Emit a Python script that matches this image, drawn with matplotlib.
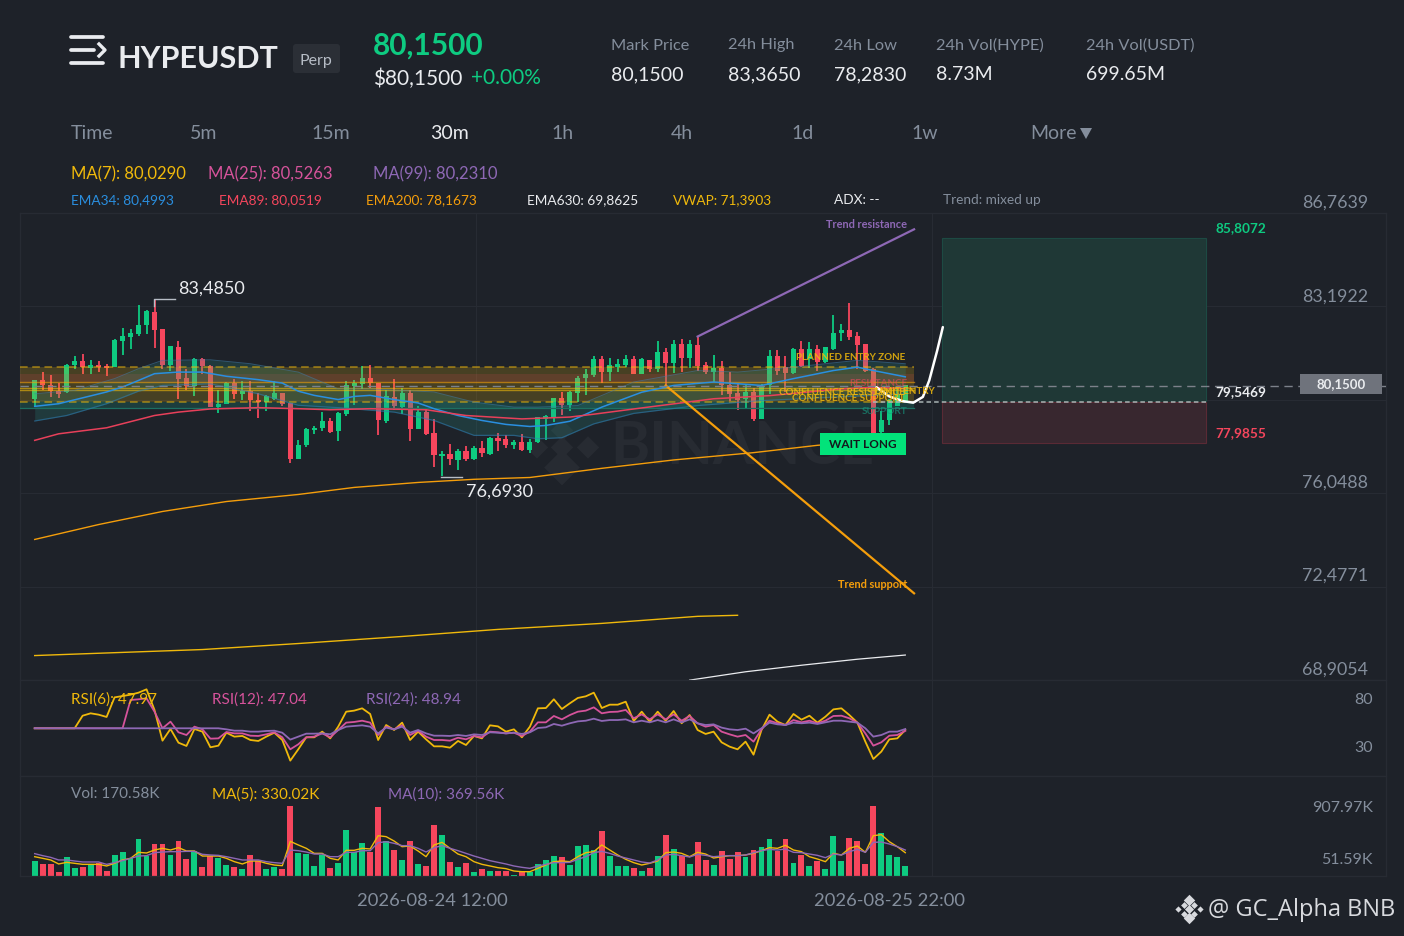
import matplotlib
matplotlib.use('Agg')
import numpy as np
import matplotlib.pyplot as plt
from matplotlib.lines import Line2D
from matplotlib.patches import Rectangle, FancyBboxPatch

plt.rcParams['font.family'] = ['Lato', 'DejaVu Sans']

BG = '#1e2229'
GREEN = '#0ecb81'
RED = '#f6465d'
GOLD = '#f0b90b'
PINK = '#d6539b'
PURPLE = '#8e68b5'
BLUE = '#2a8fe0'
ORANGE = '#f59e0b'
GREY = '#848e9c'
LIGHT = '#eaecef'
GRID = '#272b33'

# candles, 30m
opens = [79.66, 80.34, 80.15, 79.94, 79.92, 80.94, 81.10, 80.84, 80.92, 80.90,
         80.87, 81.87, 82.03, 82.15, 82.47, 82.95, 82.29, 80.94, 81.63, 80.43,
         80.15, 81.15, 80.91, 79.34, 79.45, 80.26, 79.83, 79.92, 79.60, 79.53,
         79.66, 79.85, 79.47, 77.37, 77.88, 78.48, 78.54, 78.78, 78.43, 79.06,
         80.15, 80.24, 80.45, 80.24, 78.81, 79.70, 79.35, 79.85, 78.49, 79.14,
         78.32, 77.46, 77.52, 77.33, 77.63, 77.34, 77.74, 77.56, 78.13, 78.10,
         77.89, 77.97, 77.70, 77.99, 78.89, 78.94, 79.66, 79.41, 79.88, 80.45,
         80.58, 81.16, 80.68, 80.87, 80.97, 81.16, 80.61, 81.14, 80.78, 81.42,
         81.02, 81.72, 81.21, 81.70, 80.93, 80.70, 80.83, 80.17, 79.85, 79.66,
         79.89, 78.90, 80.17, 81.28, 80.87, 80.65, 81.53, 81.19, 81.53, 81.06,
         81.57, 82.17, 82.27, 82.04, 81.73, 80.77, 78.38, 78.83, 79.40, 79.59]
highs = [80.39, 80.68, 80.55, 80.27, 80.98, 81.28, 81.36, 81.13, 81.09, 81.00,
         81.93, 82.36, 82.31, 83.23, 83.04, 83.485, 82.31, 81.66, 81.85, 80.78,
         81.23, 81.23, 80.96, 80.01, 80.29, 80.40, 80.34, 80.34, 79.88, 79.79,
         80.34, 79.85, 79.47, 78.07, 78.55, 78.63, 79.17, 78.94, 79.17, 80.34,
         80.37, 80.93, 80.96, 80.26, 80.01, 80.43, 80.07, 80.01, 79.37, 79.28,
         78.90, 77.65, 77.92, 77.74, 77.87, 77.85, 78.05, 78.20, 78.36, 78.26,
         78.10, 78.30, 78.13, 78.96, 79.04, 79.70, 79.91, 79.96, 80.52, 80.81,
         81.28, 81.28, 81.21, 81.19, 81.32, 81.29, 81.21, 81.15, 81.85, 81.59,
         81.91, 81.95, 81.89, 82.05, 81.08, 81.32, 81.10, 80.68, 80.27, 80.21,
         80.08, 80.23, 81.53, 81.53, 81.29, 81.61, 81.85, 81.82, 81.70, 81.63,
         82.87, 82.53, 83.33, 82.21, 81.76, 80.85, 79.19, 79.66, 80.10, 80.17]
lows = [79.34, 80.01, 79.73, 79.69, 79.88, 80.78, 80.62, 80.59, 80.68, 80.52,
        80.87, 81.33, 81.56, 82.06, 82.12, 81.60, 80.78, 80.71, 79.64, 79.98,
        79.75, 80.62, 79.34, 79.11, 79.45, 79.66, 79.60, 79.19, 78.91, 79.19,
        79.60, 79.37, 77.20, 77.34, 77.81, 78.30, 78.43, 78.35, 78.05, 79.01,
        79.42, 80.03, 80.06, 78.26, 78.73, 79.22, 79.09, 78.05, 78.49, 78.27,
        77.05, 76.693, 77.13, 76.95, 77.28, 77.32, 77.43, 77.50, 77.65, 77.79,
        77.72, 77.66, 77.59, 77.98, 78.10, 78.77, 79.05, 79.19, 79.52, 79.80,
        80.49, 80.27, 80.33, 80.68, 80.87, 80.59, 80.59, 80.70, 80.70, 80.10,
        80.64, 80.70, 80.84, 80.72, 80.61, 80.29, 79.82, 79.59, 79.24, 79.31,
        78.80, 78.90, 79.85, 80.55, 79.91, 80.61, 80.89, 80.84, 80.74, 81.02,
        81.53, 81.86, 81.89, 80.80, 80.68, 78.32, 78.32, 78.64, 79.40, 79.57]
closes = [80.36, 80.17, 79.96, 79.85, 80.95, 81.10, 80.87, 80.92, 80.86, 80.85,
          81.87, 82.03, 82.15, 82.47, 82.98, 82.30, 80.94, 81.64, 80.43, 80.15,
          81.15, 80.91, 79.34, 79.45, 80.26, 79.85, 79.92, 79.60, 79.52, 79.73,
          79.85, 79.47, 77.37, 77.88, 78.49, 78.54, 78.80, 78.40, 79.09, 80.15,
          80.24, 80.45, 80.26, 78.83, 79.75, 79.38, 79.85, 78.50, 79.14, 78.30,
          77.50, 77.53, 77.35, 77.63, 77.34, 77.74, 77.57, 78.15, 78.06, 77.88,
          77.97, 77.70, 77.99, 78.94, 78.99, 79.66, 79.43, 79.88, 80.45, 80.57,
          81.15, 80.68, 80.93, 80.97, 81.16, 80.61, 81.16, 80.78, 81.42, 81.02,
          81.72, 81.21, 81.72, 80.93, 80.70, 80.83, 80.17, 79.85, 79.62, 79.89,
          78.87, 80.10, 81.28, 80.74, 80.65, 81.54, 80.93, 81.53, 81.06, 81.61,
          82.17, 82.27, 82.02, 81.73, 80.74, 78.35, 78.83, 79.59, 79.82, 80.15]

# moving averages, sampled along the line
ema34_idx = [0, 3, 9, 11, 13, 15, 18, 21, 24, 28, 31, 33, 35, 38, 40, 42, 45, 48, 50, 53, 56, 59, 62, 64, 67, 71, 76, 80, 85, 91, 95, 100, 103, 105, 109]
ema34 = [79.37, 79.47, 79.92, 80.11, 80.36, 80.62, 80.68, 80.68, 80.52, 80.39, 80.26, 79.95, 79.79, 79.63, 79.75, 79.79, 79.63, 79.50, 79.28, 79.02, 78.83, 78.68, 78.60, 78.64, 78.80, 79.34, 79.91, 80.17, 80.30, 80.17, 80.43, 80.74, 80.87, 80.74, 80.50]
ema89_idx = [0, 3, 9, 15, 18, 22, 28, 33, 37, 42, 49, 54, 61, 67, 70, 75, 85, 92, 101, 105, 109]
ema89 = [78.07, 78.32, 78.55, 79.02, 79.15, 79.27, 79.32, 79.28, 79.24, 79.28, 79.24, 79.02, 78.89, 78.96, 79.07, 79.27, 79.66, 79.78, 80.04, 80.10, 80.05]
ema200_idx = [0, 8, 16, 24, 33, 40, 48, 55, 62, 71, 80, 90, 98, 109]
ema200 = [74.28, 74.85, 75.35, 75.73, 76.00, 76.27, 76.46, 76.58, 76.65, 77.00, 77.32, 77.60, 77.88, 78.17]
vwap_idx = [0, 10, 21, 33, 46, 58, 71, 83, 88]
vwap = [69.84, 69.95, 70.07, 70.30, 70.57, 70.84, 71.07, 71.34, 71.38]
ema630_idx = [82, 89, 96, 103, 109]
ema630 = [68.90, 69.22, 69.47, 69.70, 69.86]

band_up_idx = [0, 5, 10, 13, 16, 22, 27, 33, 38, 42, 50, 55, 60, 63, 68, 75, 83, 88, 95, 103, 109]
band_up = [79.85, 79.98, 80.43, 80.81, 81.13, 81.15, 81.00, 80.68, 80.04, 80.04, 79.92, 79.53, 79.34, 79.34, 79.40, 80.30, 80.74, 80.68, 80.87, 81.13, 81.00]
band_lo_idx = [0, 4, 9, 13, 16, 22, 28, 33, 38, 45, 50, 55, 60, 63, 66, 70, 75, 83, 91, 100, 109]
band_lo = [78.81, 79.02, 79.47, 79.95, 80.17, 80.23, 79.85, 79.41, 79.32, 79.15, 78.83, 78.26, 78.26, 78.13, 78.17, 78.70, 79.10, 79.40, 79.59, 79.72, 79.85]

# drawn levels
zone_top, zone_bot = 80.87, 79.52
res_top, res_bot = 80.62, 80.30
sup_top, sup_bot = 79.52, 79.30
conf_levels = [80.30, 80.09, 80.00]
last_price = 80.15
tp_price, entry_price, sl_price = 85.8072, 79.5469, 77.9855
trend_res_idx, trend_res = [83, 110.1], [82.04, 86.14]
trend_sup_idx, trend_sup = [79, 110.1], [80.17, 72.22]
path_idx = [105.4, 107, 108.7, 110, 111.2, 112, 113, 113.7]
path_px = [80.10, 79.75, 79.57, 79.51, 79.73, 80.36, 81.51, 82.40]
price_ticks = [86.7639, 83.1922, 79.6205, 76.0488, 72.4771, 68.9054]
tick_text = ['86,7639', '83,1922', None, '76,0488', '72,4771', '68,9054']

rsi6 = [49.7, 49.7, 49.7, 49.7, 49.7, 49.7, 62.8, 65.3, 63.9, 61.5, 81.9, 83.3, 84.7, 86.8, 90.3, 68.8, 36.8, 49.0, 34.7, 31.3,
        49.0, 46.2, 29.9, 31.6, 45.1, 41.0, 41.7, 37.5, 36.5, 41.0, 45.1, 37.5, 16.0, 27.8, 40.3, 40.3, 46.2, 39.2, 51.4, 67.0,
        68.1, 70.5, 64.6, 37.5, 53.1, 47.9, 55.6, 37.5, 46.2, 38.2, 30.9, 30.9, 29.5, 36.5, 32.3,
        41.7, 39.2, 52.8, 51.7, 46.2, 48.6, 40.3, 51.4, 70.5, 70.8, 79.9, 69.8, 75.7, 81.3, 83.0, 86.8, 70.8, 74.3, 74.3, 77.4,
        57.3, 67.0, 56.6, 67.0, 57.6, 67.7, 54.9, 63.5, 47.9, 43.8, 46.2, 35.1, 30.6, 27.8, 35.8, 22.2, 47.9, 63.9, 56.6, 53.1,
        64.6, 58.7, 62.8, 55.6, 61.8, 69.4, 70.5, 63.5, 55.6, 35.8, 17.7, 25.4, 38.2, 39.2, 47.97]
rsi12 = [49.7, 49.7, 49.7, 49.7, 49.7, 49.7, 49.7, 49.7, 49.7, 49.7, 49.7, 49.7, 79.2, 79.9, 80.9, 67.0, 49.7, 56.6, 45.5, 42.7,
         51.4, 48.6, 38.9, 39.2, 45.8, 44.4, 44.4, 42.0, 41.7, 43.4, 45.5, 40.3, 27.8, 33.0, 40.3, 41.0, 44.4, 40.3, 47.9, 55.6,
         56.3, 57.6, 55.6, 42.7, 51.4, 48.6, 52.8, 42.7, 47.2, 41.0, 37.5, 37.5, 36.8, 39.9, 38.2,
         41.7, 40.3, 46.2, 45.5, 44.4, 45.1, 41.7, 46.2, 55.9, 55.9, 62.5, 59.0, 63.5, 67.0, 68.1, 71.5, 65.3, 66.7, 67.0, 68.8,
         60.1, 64.2, 59.0, 64.2, 59.0, 64.2, 57.6, 62.5, 54.9, 51.4, 53.1, 46.2, 43.4, 41.0, 42.7, 35.8, 48.6, 57.6, 54.9, 53.1,
         58.3, 55.9, 57.6, 54.9, 57.6, 62.5, 62.8, 60.1, 55.6, 44.4, 31.6, 35.1, 42.0, 42.7, 47.04]
rsi24 = [49.7, 49.7, 49.7, 49.7, 49.7, 49.7, 49.7, 49.7, 49.7, 49.7, 49.7, 49.7, 49.7, 49.7, 49.7, 49.7, 49.7, 49.7, 49.7, 49.7,
         49.7, 49.7, 49.7, 49.7, 48.6, 47.2, 47.2, 46.2, 46.2, 46.9, 47.2, 45.1, 37.9, 41.0, 44.1, 44.1, 44.4, 43.4, 47.9, 51.4,
         52.1, 52.8, 51.4, 44.4, 50.4, 48.6, 51.4, 45.1, 47.9, 44.4, 42.0, 42.0, 41.7, 42.7, 41.7,
         43.4, 42.7, 45.5, 45.1, 44.4, 45.1, 43.8, 45.5, 50.0, 50.7, 54.2, 52.4, 54.9, 56.9, 57.6, 59.7, 57.3, 58.3, 58.3, 59.0,
         55.9, 57.6, 55.9, 58.3, 55.9, 59.0, 55.9, 59.0, 54.9, 53.1, 53.8, 50.4, 48.6, 47.9, 49.3, 44.4, 49.7, 55.6, 53.8, 53.1,
         55.6, 54.9, 55.6, 54.2, 55.9, 57.6, 57.6, 56.6, 55.6, 49.7, 41.0, 42.7, 46.2, 46.2, 48.94]

# volume in K
volume = [247, 198, 203, 71, 307, 137, 148, 192, 214, 77, 340, 395, 296, 609, 329, 527, 527, 351, 571, 280,
          417, 154, 329, 302, 181, 143, 115, 346, 253, 121, 148, 121, 1153, 379, 368, 159, 351, 126, 209, 758,
          401, 544, 390, 1131, 571, 434, 258, 576, 203, 159, 834, 681, 231, 148, 220,
          66, 110, 82, 88, 82, 22, 71, 71, 203, 269, 329, 313, 187, 494, 505, 428, 736, 329, 165, 165,
          132, 88, 132, 329, 670, 439, 329, 198, 554, 264, 176, 417, 275, 390, 313, 423, 483, 609, 417, 609,
          214, 351, 159, 253, 121, 659, 253, 631, 582, 192, 1153, 703, 340, 318, 170.58]
vol_ma5 = [318, 291, 264, 198, 225, 209, 192, 192, 192, 165, 209, 264, 291, 390, 379, 428, 456, 428, 467, 412,
           412, 329, 329, 329, 291, 236, 198, 247, 247, 209, 181, 170, 571, 511, 456, 373, 373, 291, 264, 423,
           423, 456, 445, 664, 648, 576, 483, 494, 412, 318, 511, 554, 456, 362, 318,
           236, 192, 165, 137, 121, 82, 71, 71, 126, 181, 236, 247, 236, 318, 384, 401, 511, 428, 346, 275,
           220, 181, 209, 247, 384, 395, 373, 318, 390, 362, 296, 318, 335, 335, 346, 373, 417, 467, 456, 505,
           428, 401, 318, 280, 236, 373, 346, 456, 494, 390, 664, 681, 565, 483, 384]
vol_ma10 = [368, 335, 307, 264, 264, 247, 231, 231, 231, 192, 220, 253, 291, 329, 335, 384, 395, 401, 401, 406,
            406, 357, 346, 340, 318, 291, 264, 264, 264, 236, 220, 209, 428, 417, 395, 362, 362, 318, 318, 390,
            390, 417, 417, 549, 565, 538, 500, 500, 456, 395, 467, 500, 456, 417, 373,
            329, 291, 253, 225, 198, 165, 143, 126, 165, 192, 220, 220, 225, 275, 318, 384, 406, 373, 329, 296,
            264, 231, 214, 264, 346, 357, 335, 313, 357, 340, 318, 329, 335, 335, 346, 384, 417, 439, 428, 445,
            390, 384, 362, 340, 302, 362, 346, 401, 439, 390, 554, 560, 527, 483, 428]

W, H = 1404, 936
X0, DX = 34.7, 7.987
fig = plt.figure(figsize=(W / 100, H / 100), dpi=100, facecolor=BG)


def panel(top, bottom, left=20, right=1386):
    a = fig.add_axes([left / W, 1 - bottom / H, (right - left) / W, (bottom - top) / H], facecolor=BG)
    a.set_xlim((left - X0) / DX, (right - X0) / DX)
    a.tick_params(left=False, bottom=False, labelleft=False, labelbottom=False)
    for s in a.spines.values():
        s.set_color(GRID)
        s.set_linewidth(0.9)
    a.set_xticks([(476 - X0) / DX, (932 - X0) / DX])
    a.grid(True, color=GRID, lw=0.8)
    a.set_axisbelow(True)
    return a


ax = panel(213, 680)
ax.set_ylim(68.9054, 86.7639)
ax.set_yticks(price_ticks)

ax_rsi = panel(680, 776)
ax_rsi.set_ylim(0, 100)
ax_rsi.set_yticks([30, 80])
ax_rsi.grid(False, axis='y')

ax_vol = panel(776, 876)
ax_vol.set_ylim(0, 1647)
ax_vol.set_yticks([51.59, 907.97])
ax_vol.grid(False, axis='y')

idx = np.arange(len(opens))
cols = [GREEN if c >= o else RED for o, c in zip(opens, closes)]

# watermark under the candles
ax.text((610 - X0) / DX, 77.8, 'BINANCE', color='#272b32', fontsize=43, fontweight='bold', va='center', zorder=1)
ax.scatter((np.array([537, 562, 588, 562, 562]) - X0) / DX, [77.8, 77.8, 77.8, 78.45, 77.03],
           marker='D', s=[130, 130, 130, 130, 330], color='#272b32', zorder=1, linewidths=0)

# long position box
ax.add_patch(Rectangle((113.6, entry_price), 33.1, tp_price - entry_price, fc='#1f3836', ec='#1d4a43', lw=0.8, zorder=1.5))
ax.add_patch(Rectangle((113.6, sl_price), 33.1, entry_price - sl_price, fc='#38272f', ec='#5a2a35', lw=0.8, zorder=1.5))

ax.vlines(idx, lows, highs, color=cols, lw=1.3, zorder=2)
ax.bar(idx, np.abs(np.array(closes) - np.array(opens)) + 0.02, bottom=np.minimum(opens, closes),
       width=0.64, color=cols, zorder=2.2, linewidth=0)

# zones
zx = [-1.84, 110.1]
ax.fill_between(zx, zone_bot, zone_top, color=GOLD, alpha=0.2, lw=0, zorder=3)
ax.fill_between(zx, res_bot, res_top, color=RED, alpha=0.14, lw=0, zorder=3)
ax.fill_between(zx, sup_bot, sup_top, color='#16a085', alpha=0.22, lw=0, zorder=3)
ax.plot(zx, [zone_top] * 2, color=GOLD, lw=1.1, ls=(0, (5, 3)), alpha=0.6, zorder=3.2)
ax.plot(zx, [zone_bot] * 2, color=GOLD, lw=1.1, ls=(0, (5, 3)), alpha=0.6, zorder=3.2)
ax.plot(zx, [sup_bot] * 2, color='#1d6f62', lw=0.9, zorder=3.2)
for lvl, c in zip(conf_levels, [ORANGE, GOLD, GOLD]):
    ax.plot(zx, [lvl] * 2, color=c, lw=1.0, alpha=0.6, zorder=3.2)

# EMA cloud
xs = np.arange(0, 110)
up = np.interp(xs, band_up_idx, band_up)
lo = np.interp(xs, band_lo_idx, band_lo)
ax.fill_between(xs, lo, up, color='#2a9d8f', alpha=0.2, lw=0, zorder=3.1)
ax.plot(band_up_idx, band_up, color='#3f7fa8', lw=0.7, alpha=0.55, zorder=3.3)
ax.plot(band_lo_idx, band_lo, color='#2f7fb8', lw=0.9, alpha=0.55, zorder=3.3)

ax.plot(ema34_idx, ema34, color=BLUE, lw=1.1, zorder=4)
ax.plot(ema89_idx, ema89, color='#e8405a', lw=1.1, zorder=4)
ax.plot(ema200_idx, ema200, color=ORANGE, lw=1.0, zorder=4)
ax.plot(vwap_idx, vwap, color=GOLD, lw=1.0, zorder=4)
ax.plot(ema630_idx, ema630, color=LIGHT, lw=0.9, zorder=4)
ax.plot(trend_res_idx, trend_res, color=PURPLE, lw=1.6, zorder=4.2)
ax.plot(trend_sup_idx, trend_sup, color=ORANGE, lw=1.6, zorder=4.2)
ax.plot(path_idx, path_px, color='white', lw=1.8, zorder=5, solid_capstyle='round')
ax.plot([-1.84, 169.2], [last_price] * 2, color='#7c818a', lw=1.0, ls=(0, (6, 4)), zorder=4.5)
ax.plot([105, 146.7], [entry_price] * 2, color='#a9b4b4', lw=1.1, ls=(0, (3, 2)), zorder=4.5)

# RSI
ax_rsi.plot(idx, rsi6, color=GOLD, lw=1.3)
ax_rsi.plot(idx, rsi12, color=PINK, lw=1.3)
ax_rsi.plot(idx, rsi24, color=PURPLE, lw=1.3)

# volume
ax_vol.bar(idx, volume, width=0.74, color=cols, linewidth=0, zorder=2)
ax_vol.plot(idx, vol_ma5, color=GOLD, lw=1.0, zorder=3)
ax_vol.plot(idx, vol_ma10, color=PURPLE, lw=1.0, zorder=3)

# pixel overlay for all the labels
ov = fig.add_axes([0, 0, 1, 1], zorder=10)
ov.set_xlim(0, W)
ov.set_ylim(H, 0)
ov.axis('off')


def T(x, y, s, c=LIGHT, size=12, ha='left', weight='normal', **kw):
    return ov.text(x, y + 1.5, s, color=c, fontsize=size, ha=ha, va='center', fontweight=weight, **kw)


# menu icon
for y, x1 in [(37, 103), (50, 94), (63, 103)]:
    ov.add_line(Line2D([71, x1], [y, y], color=LIGHT, lw=2.7, solid_capstyle='round'))
ov.add_line(Line2D([99, 105, 99], [44, 50, 56], color=LIGHT, lw=2.4))

T(117, 57.5, 'HYPEUSDT', LIGHT, 22, weight='bold')
ov.add_patch(FancyBboxPatch((293, 44), 47, 29, boxstyle='round,pad=0,rounding_size=3', fc='#2b2f36', ec='none'))
T(316, 59, 'Perp', '#b7bdc6', 11.5, ha='center')
T(373, 44.5, '80,1500', GREEN, 21.5, weight='bold')
T(373, 77, '$80,1500', LIGHT, 15)
T(471, 77, '+0.00%', GREEN, 15)

for x, name, val in [(611, 'Mark Price', '80,1500'), (728, '24h High', '83,3650'), (834, '24h Low', '78,2830'),
                     (936, '24h Vol(HYPE)', '8.73M'), (1086, '24h Vol(USDT)', '699.65M')]:
    T(x, 44, name, GREY, 11.8)
    T(x, 73, val, LIGHT, 14)

for x, s, c in [(71, 'Time', GREY), (190, '5m', GREY), (311, '15m', GREY), (430, '30m', LIGHT), (551, '1h', GREY),
                (671, '4h', GREY), (791, '1d', GREY), (911, '1w', GREY), (1030, 'More', GREY)]:
    T(x, 132, s, c, 14)
ov.fill([1080, 1092, 1086], [128, 128, 139], color=GREY, lw=0)

T(71, 173, 'MA(7): 80,0290', GOLD, 12)
T(208, 173, 'MA(25): 80,5263', PINK, 12)
T(373, 173, 'MA(99): 80,2310', PURPLE, 12)
T(71, 199, 'EMA34: 80,4993', BLUE, 9.8)
T(219, 199, 'EMA89: 80,0519', RED, 9.8)
T(366, 199, 'EMA200: 78,1673', ORANGE, 9.8)
T(527, 199, 'EMA630: 69,8625', LIGHT, 9.8)
T(673, 199, 'VWAP: 71,3903', GOLD, 9.8)
T(834, 199, 'ADX: --', LIGHT, 9.8)
T(943, 199, 'Trend: mixed up', GREY, 9.8)

for y, s in zip([201, 295, None, 481, 574, 668], tick_text):
    if s:
        T(1368, y, s, GREY, 12.8, ha='right')
T(1373, 699, '80', GREY, 11.5, ha='right')
T(1373, 747, '30', GREY, 11.5, ha='right')
T(1373, 806, '907.97K', GREY, 11.5, ha='right')
T(1373, 858, '51.59K', GREY, 11.5, ha='right')

T(178, 287, '83,4850', LIGHT, 13)
ov.add_line(Line2D([154, 154, 175], [306, 299, 299], color='#b7bdc6', lw=1))
T(466, 490, '76,6930', LIGHT, 13)
ov.add_line(Line2D([441, 462], [476.5, 476.5], color='#b7bdc6', lw=1))

T(907, 222.5, 'Trend resistance', PURPLE, 7.9, ha='right', weight='bold')
T(907, 582.5, 'Trend support', ORANGE, 7.9, ha='right', weight='bold')
T(905, 356.5, 'PLANNED ENTRY ZONE', GOLD, 7.1, ha='right', weight='bold', alpha=0.85)
T(907, 381.5, 'RESISTANCE', RED, 7.1, ha='right', weight='bold', alpha=0.55)
T(905, 391, 'CONFLUENCE RESISTANCE', GOLD, 7.1, ha='right', weight='bold', alpha=0.85)
T(905, 397, 'CONFLUENCE SUPPORT', GOLD, 7.1, ha='right', weight='bold', alpha=0.85)
T(935, 390.5, 'LIMIT ENTRY', GOLD, 7.1, ha='right', weight='bold', alpha=0.85)
T(907, 410.5, 'SUPPORT', '#16a085', 7.2, ha='right', weight='bold', alpha=0.6)

ov.add_patch(Rectangle((820, 433), 86, 22, fc='#02e37a', ec='none'))
T(863, 442.5, 'WAIT LONG', '#14171c', 8.5, ha='center', weight='bold')

T(1215, 227, '85,8072', GREEN, 9.8, weight='bold')
T(1215, 391, '79,5469', LIGHT, 9.8, weight='bold')
T(1215, 432, '77,9855', RED, 9.8, weight='bold')
ov.add_patch(Rectangle((1300, 374), 82, 20, fc='#6f737c', ec='none'))
T(1341, 382.5, '80,1500', LIGHT, 9.5, ha='center', weight='bold')

T(71, 698, 'RSI(6): 47.97', GOLD, 11)
T(212, 698, 'RSI(12): 47.04', PINK, 11)
T(366, 698, 'RSI(24): 48.94', PURPLE, 11)
T(71, 793, 'Vol: 170.58K', GREY, 11)
T(212, 793, 'MA(5): 330.02K', GOLD, 11)
T(388, 793, 'MA(10): 369.56K', PURPLE, 11)

T(432, 900, '2026-08-24 12:00', GREY, 13.2, ha='center')
T(889, 900, '2026-08-25 22:00', GREY, 13.2, ha='center')

# footer mark
for dx, dy, s in [(0, -9, 34), (-5, -4.5, 12), (5, -4.5, 12), (0, 0, 22), (-11, 0, 10), (11, 0, 10), (0, 9, 34), (-5, 4.5, 12), (5, 4.5, 12)]:
    ov.scatter(1189 + dx, 909 + dy, marker='D', s=s, color='#d8dade', linewidths=0)
T(1208, 909, '@ GC_Alpha BNB', '#d8dade', 17, family=['Open Sans', 'DejaVu Sans'])

fig.savefig('out.png', dpi=100, facecolor=BG)
